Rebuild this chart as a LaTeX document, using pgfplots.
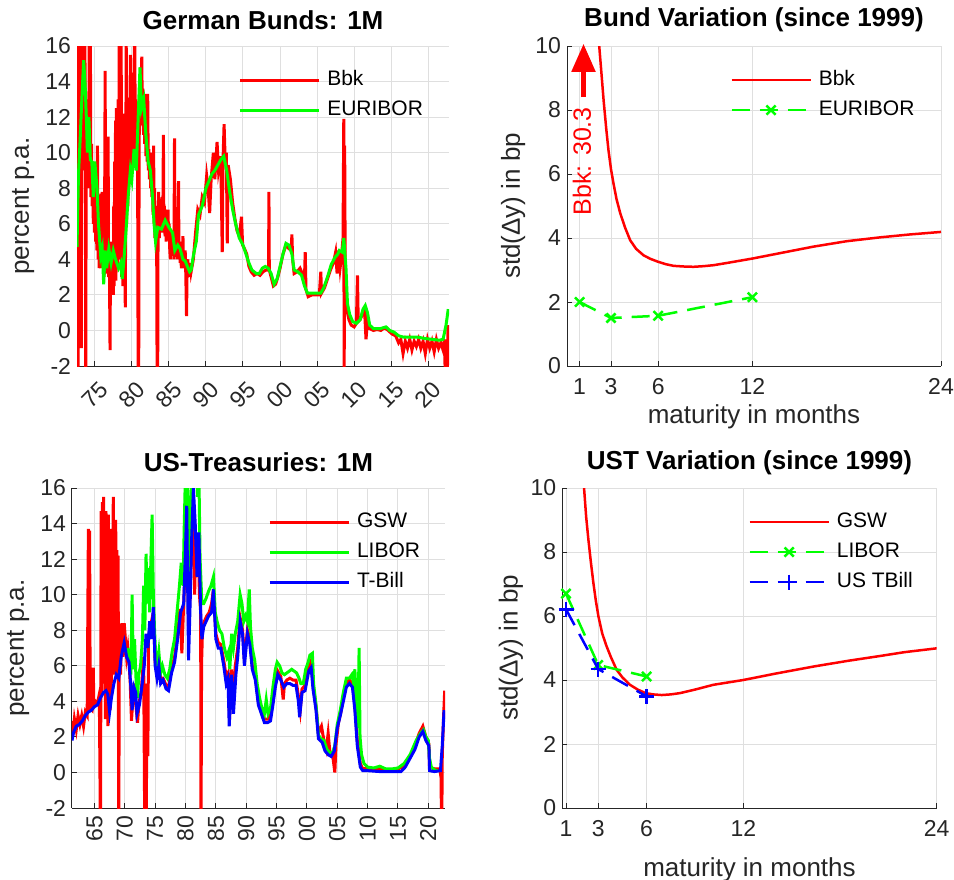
\documentclass[border=0pt]{standalone}
\usepackage{pgfplots}
\pgfplotsset{compat=1.18}
\usepackage{fontspec}
\setmainfont{Liberation Sans}
\usetikzlibrary{arrows.meta}
\definecolor{axgray}{rgb}{0.15,0.15,0.15}
\definecolor{gridgray}{rgb}{0.875,0.875,0.875}
\definecolor{mred}{rgb}{1,0,0}
\definecolor{mgreen}{rgb}{0,1,0}
\definecolor{mblue}{rgb}{0,0,1}
\pgfplotsset{
  matlab/.style={
    scale only axis, anchor=south west,
    axis x line*=bottom, axis y line*=left,
    axis line style={-, axgray, line width=1pt},
    every tick/.style={axgray, line width=1pt},
    tick align=inside, major tick length=5pt,
    grid=major, major grid style={gridgray, line width=1pt},
    tick label style={font=\fontsize{23}{26}\selectfont, text=axgray},
    /pgf/number format/assume math mode=true,
    label style={font=\fontsize{26}{30}\selectfont, text=axgray},
    title style={font=\fontsize{26}{30}\selectfont\bfseries, anchor=center},
    legend style={draw=none, fill=none, font=\fontsize{21}{24}\selectfont, anchor=north west, inner sep=0pt, row sep=9pt, nodes={inner sep=1pt, text height=15pt, text depth=4pt}, /tikz/every odd column/.append style={column sep=6pt}},
    legend cell align=left,
    legend image code/.code={\draw[mark repeat=2,mark phase=2,##1] plot coordinates {(0pt,0pt) (39.5pt,0pt) (79pt,0pt)};},
    scaled ticks=false,
    clip mode=individual,
    yticklabel shift=2.5pt,
  },
}
\begin{document}
\begin{tikzpicture}
\useasboundingbox (0pt,0pt) rectangle (954pt,-880pt);
% ---------------- Panel 1 ----------------
\begin{axis}[matlab, at={(77pt,-366pt)}, width=372pt, height=320pt,
  xmin=1972.6, xmax=2022.8, ymin=-2, ymax=16,
  xtick={1975,1980,...,2020}, xticklabels={75,80,85,90,95,00,05,10,15,20},
  ytick={-2,0,...,16},
  xticklabel style={rotate=45, anchor=center}, xticklabel shift=29pt,
  title={German Bunds: 1M}, title style={at={(axis description cs:0.5,1.0625)}},
  ylabel={percent p.a.}, ylabel style={at={(axis description cs:-0.145,0.5)}, anchor=center},
  legend style={at={(axis description cs:0.433,0.927)}},
]
\addplot[mred, line width=3pt] coordinates {
(1972.60,4.5) (1972.64,17) (1972.68,2.5) (1972.72,17) (1972.76,-4) (1972.80,12) (1972.84,3) (1972.88,17) (1972.92,-1) (1972.96,17)
(1973.00,8) (1973.04,17) (1973.08,6) (1973.12,15) (1973.18,-1) (1973.24,17) (1973.30,10) (1973.36,17) (1973.42,12) (1973.48,17)
(1973.54,14) (1973.60,9) (1973.66,17) (1973.72,11) (1973.78,-4) (1973.84,10) (1973.90,13) (1973.96,9) (1974.02,11) (1974.10,8)
(1974.18,10) (1974.26,17) (1974.32,9) (1974.40,17) (1974.48,7.5) (1974.56,10.5) (1974.64,7) (1974.72,9.5) (1974.80,6) (1974.88,8.5)
(1974.96,5.5) (1975.04,7.5) (1975.12,5) (1975.20,6.5) (1975.28,4.5) (1975.36,10.4) (1975.44,4) (1975.52,6) (1975.60,3.5) (1975.68,5)
(1975.76,4) (1975.84,7.7) (1975.92,3.5) (1976.00,7.8) (1976.08,4) (1976.16,5.5) (1976.24,3) (1976.32,6) (1976.40,14.6) (1976.46,4)
(1976.52,7.5) (1976.58,3.2) (1976.66,5.5) (1976.74,3.5) (1976.80,10.9) (1976.86,3) (1976.92,5) (1976.98,3.5) (1977.06,-1.1) (1977.12,4.5)
(1977.18,3) (1977.26,5) (1977.34,2.5) (1977.42,4.5) (1977.50,2) (1977.56,7) (1977.62,2.5) (1977.68,9.5) (1977.74,3) (1977.80,11.8)
(1977.86,2.8) (1977.92,12.5) (1977.98,4) (1978.04,11.8) (1978.10,3.5) (1978.16,13) (1978.22,5) (1978.30,17) (1978.36,6) (1978.42,12.5)
(1978.48,4) (1978.56,17) (1978.62,3) (1978.70,11) (1978.78,2.5) (1978.86,12.2) (1978.92,4) (1979.00,9) (1979.06,3) (1979.12,1.3)
(1979.18,8) (1979.24,17) (1979.30,6) (1979.38,11) (1979.46,7) (1979.52,13.1) (1979.58,8) (1979.66,12) (1979.72,9) (1979.80,15.5)
(1979.86,8.5) (1979.92,12) (1979.98,9) (1980.04,14.5) (1980.10,9.5) (1980.18,12.5) (1980.26,10) (1980.34,16.5) (1980.40,17) (1980.46,10)
(1980.54,13) (1980.62,9.5) (1980.70,12) (1980.78,9.3) (1980.86,-4) (1980.92,-4) (1980.98,10) (1981.04,13) (1981.10,11.5) (1981.18,14.8)
(1981.26,12.5) (1981.34,15.4) (1981.42,12) (1981.50,13.6) (1981.58,11) (1981.66,12.5) (1981.74,10.5) (1981.82,13.3) (1981.90,9.8) (1981.98,12)
(1982.06,9.5) (1982.14,13.3) (1982.22,9) (1982.30,10.2) (1982.38,8.5) (1982.46,10) (1982.54,8) (1982.62,9.5) (1982.70,7.5) (1982.78,10)
(1982.86,6.5) (1982.94,10.4) (1983.00,6) (1983.06,8) (1983.12,5.2) (1983.18,7) (1983.26,5) (1983.34,6.5) (1983.42,-4) (1983.48,-4)
(1983.54,6) (1983.62,7.8) (1983.70,5.2) (1983.78,7) (1983.86,5.5) (1983.94,6.5) (1984.02,5.5) (1984.10,7.5) (1984.18,6) (1984.26,11)
(1984.32,6) (1984.40,7) (1984.48,5.3) (1984.56,6.5) (1984.64,5) (1984.72,6) (1984.80,5.5) (1984.88,6.8) (1984.96,5.2) (1985.04,6)
(1985.12,4.5) (1985.20,4) (1985.28,5.5) (1985.36,4.5) (1985.44,5) (1985.52,4.2) (1985.60,5.5) (1985.68,4) (1985.76,10.8) (1985.82,4.5)
(1985.90,5.5) (1985.98,4.2) (1986.06,5) (1986.14,4) (1986.22,5.2) (1986.30,8.4) (1986.36,4.2) (1986.44,5) (1986.52,3.8) (1986.60,4.6)
(1986.68,3.5) (1986.76,5) (1986.84,4) (1986.90,5.3) (1986.96,3.5) (1987.04,4.5) (1987.12,3.5) (1987.20,4.5) (1987.28,3.2) (1987.38,0.8)
(1987.46,3.5) (1987.56,4) (1987.66,3) (1987.74,3.6) (1987.82,3.2) (1987.90,3.8)
(1988.0,3.3) (1988.3,4.0) (1988.6,5.5) (1988.9,6.8) (1989.2,6.5) (1989.5,7.5) (1989.8,7.2) (1990.1,8.7) (1990.3,8.0) (1990.5,6.6)
(1990.7,8.5) (1991.0,10.0) (1991.2,8.5) (1991.5,10.6) (1991.7,9.0) (1992.0,9.8) (1992.2,4.4) (1992.3,9.5) (1992.45,11.6) (1992.6,9.5)
(1992.75,10.0) (1992.88,4.9) (1993.0,9.3) (1993.3,8.5) (1993.6,7.2) (1993.9,6.3) (1994.2,5.6) (1994.5,5.3) (1994.8,6.4) (1994.95,4.8)
(1995.2,4.6) (1995.5,4.3) (1995.8,3.6) (1996.1,3.3) (1996.5,3.1) (1996.9,3.2) (1997.3,3.1) (1997.7,3.3) (1998.1,3.4) (1998.45,3.4)
(1998.5,7.8) (1998.55,3.4) (1998.8,3.0) (1999.1,2.5) (1999.4,2.6) (1999.7,3.0) (2000.0,3.5) (2000.4,4.3) (2000.8,4.8) (2001.2,4.6)
(2001.5,4.5) (2001.6,5.4) (2001.7,4.0) (2001.9,3.2) (2002.3,3.3) (2002.7,3.5) (2003.0,3.2) (2003.3,3.0) (2003.4,4.4) (2003.5,2.3)
(2003.8,1.9) (2004.3,2.0) (2004.8,2.0) (2005.3,2.0) (2005.5,3.3) (2005.6,2.1) (2006.0,2.4) (2006.4,2.9) (2006.8,3.4) (2007.2,3.8)
(2007.5,4.4) (2007.7,3.2) (2007.9,4.5) (2008.1,3.5) (2008.3,4.2) (2008.5,5.2) (2008.6,11.9) (2008.65,-4) (2008.72,10.4) (2008.8,3.0)
(2009.0,1.2) (2009.3,0.6) (2009.6,0.3) (2010.0,0.2) (2010.3,0.4) (2010.45,3.1) (2010.55,0.5) (2010.8,0.6) (2011.1,0.9) (2011.4,1.2)
(2011.6,-0.5) (2011.8,0.5) (2012.1,0.1) (2012.6,0.0) (2013.1,0.05) (2013.6,0.0) (2014.1,0.15) (2014.6,0.0) (2015.1,-0.2) (2015.6,-0.3)
(2016.0,-0.7) (2016.3,-0.5) (2016.6,-1.3) (2016.9,-0.6) (2017.2,-1.0) (2017.5,-0.5) (2017.8,-1.1) (2018.1,-0.6) (2018.4,-0.9) (2018.7,-0.5)
(2019.0,-1.0) (2019.3,-0.6) (2019.6,-1.3) (2019.9,-0.5) (2020.2,-1.0) (2020.5,-0.6) (2020.8,-1.2) (2021.1,-0.5) (2021.4,-1.0) (2021.7,-0.7)
(2022.0,-1.1) (2022.2,-0.5) (2022.35,-4) (2022.45,-0.5) (2022.55,-4) (2022.65,0.3) (2022.75,-1.5)
};
\addlegendentry{Bbk}
\addplot[mgreen, line width=3pt] coordinates {
(1972.6,4.7) (1972.8,8.8) (1973.0,10.5) (1973.2,12.5) (1973.5,15.2) (1973.7,13.8) (1973.9,11.5) (1974.0,10.0) (1974.2,12.0) (1974.4,9.6)
(1974.6,9.5) (1974.8,7.5) (1975.0,9.5) (1975.3,8.0) (1975.5,6.0) (1975.8,4.2) (1976.0,4.6) (1976.2,2.6) (1976.4,4.5) (1976.6,3.5)
(1976.9,4.6) (1977.2,3.8) (1977.5,4.5) (1977.8,4.0) (1978.2,3.5) (1978.5,3.8) (1978.7,2.9) (1978.9,3.8) (1979.2,5.5) (1979.5,7.5)
(1979.8,9.0) (1980.0,8.5) (1980.3,10.2) (1980.6,9.0) (1980.9,12.5) (1981.1,14.8) (1981.3,12.5) (1981.6,13.0) (1981.9,11.0) (1982.2,9.5)
(1982.5,9.0) (1982.8,7.5) (1983.0,6.0) (1983.2,5.0) (1983.5,5.8) (1984.0,5.7) (1984.5,6.2) (1985.0,5.8) (1985.5,5.5) (1985.8,4.5)
(1986.2,4.8) (1986.5,4.6) (1986.9,4.0) (1987.2,3.9) (1987.5,3.6) (1987.8,3.3) (1988.0,3.4) (1988.3,4.2) (1988.7,5.0) (1989.0,6.5)
(1989.5,7.0) (1990.0,8.0) (1990.5,8.5) (1990.8,8.8) (1991.2,9.0) (1991.6,9.3) (1992.0,9.6) (1992.4,9.8) (1992.8,9.0) (1993.2,7.8)
(1993.6,6.8) (1994.0,6.0) (1994.5,5.2) (1995.0,4.8) (1995.4,4.3) (1995.8,3.8) (1996.2,3.4) (1996.8,3.2) (1997.2,3.2) (1997.6,3.5)
(1998.0,3.6) (1998.4,3.5) (1998.8,3.2) (1999.2,2.6) (1999.6,2.9) (2000.0,3.6) (2000.4,4.3) (2000.8,4.9) (2001.2,4.8) (2001.6,4.3)
(2001.9,3.4) (2002.4,3.3) (2002.9,3.1) (2003.3,2.5) (2003.7,2.1) (2004.3,2.1) (2004.8,2.1) (2005.5,2.1) (2005.9,2.4) (2006.4,3.0)
(2006.9,3.7) (2007.4,4.1) (2007.8,4.3) (2008.0,4.5) (2008.4,4.4) (2008.6,5.2) (2008.9,3.5) (2009.1,1.5) (2009.4,0.9) (2009.8,0.5)
(2010.3,0.4) (2010.8,0.6) (2011.2,1.2) (2011.5,1.4) (2011.8,1.0) (2012.1,0.3) (2012.6,0.1) (2013.5,0.1) (2014.3,0.2) (2014.8,0.0)
(2015.4,-0.1) (2016.0,-0.3) (2016.6,-0.37) (2017.5,-0.37) (2018.5,-0.37) (2019.5,-0.45) (2020.5,-0.5) (2021.5,-0.55) (2022.0,-0.5) (2022.4,0.3)
(2022.7,1.2)
};
\addlegendentry{EURIBOR}
\end{axis}
% ---------------- Panel 2 ----------------
\begin{axis}[matlab, at={(567pt,-366pt)}, width=374pt, height=320pt,
  xmin=0.2, xmax=24, ymin=0, ymax=10,
  xtick={1,3,6,12,24}, ytick={0,2,...,10}, xticklabel shift=9pt,
  title={Bund Variation (since 1999)}, title style={at={(axis description cs:0.5,1.0625)}},
  xlabel={maturity in months}, xlabel style={at={(axis description cs:0.5,-0.158)}, anchor=center},
  ylabel={std(Δy) in bp}, ylabel style={at={(axis description cs:-0.144,0.5)}, anchor=center},
  legend style={at={(axis description cs:0.436,0.927)}},
]
\addplot[mred, line width=2.5pt] coordinates {
(1,30.3) (1.3,22) (1.6,16.5) (1.9,13) (2.1,11.3) (2.25,10) (2.4,9.1) (2.53,8.3) (2.7,7.4) (2.84,6.74) (3.0,6.15) (3.16,5.7)
(3.35,5.22) (3.59,4.77) (3.9,4.32) (4.22,3.93) (4.6,3.66) (5.07,3.46) (5.5,3.35) (5.98,3.26) (6.5,3.18) (6.98,3.13) (7.6,3.11)
(8.25,3.10) (8.9,3.12) (9.52,3.15) (10.5,3.23) (12.02,3.36) (14,3.55) (15.88,3.73) (18,3.9) (20.12,4.02) (22,4.11) (24,4.19)
};
\addlegendentry{Bbk}
\addplot[mgreen, line width=2.5pt, dash pattern=on 18pt off 10pt, mark=x, mark size=6.5pt, mark options={solid, line width=2.5pt}] coordinates {
(1,2.0) (3,1.5) (6,1.57) (12,2.15)
};
\addlegendentry{EURIBOR}
\draw[mred, line width=5pt, -{Triangle[width=23pt,length=28pt]}] (axis cs:1.25,8.4) -- (axis cs:1.25,10.07);
\node[mred, rotate=90, font=\fontsize{25}{28}\selectfont, anchor=center] at (axis cs:1.15,6.4) {Bbk: 30.3};
\end{axis}
% ---------------- Panel 3 ----------------
\begin{axis}[matlab, at={(72pt,-808pt)}, width=373pt, height=320pt,
  xmin=1961.3, xmax=2022.75, ymin=-2, ymax=16,
  xtick={1965,1970,...,2020}, xticklabels={65,70,75,80,85,90,95,00,05,10,15,20},
  ytick={-2,0,...,16},
  xticklabel style={rotate=90, anchor=east}, xticklabel shift=4pt,
  title={US-Treasuries: 1M}, title style={at={(axis description cs:0.5,1.061)}},
  ylabel={percent p.a.}, ylabel style={at={(axis description cs:-0.144,0.5)}, anchor=center},
  legend style={at={(axis description cs:0.525,0.927)}},
]
\addplot[mred, line width=3pt] coordinates {
(1961.3,2.9) (1961.5,2.2) (1961.7,3.0) (1962.0,2.4) (1962.3,3.2) (1962.6,2.7) (1962.9,3.2) (1963.2,2.6) (1963.5,3.4) (1963.8,3.2)
(1964.0,13.7) (1964.1,3.5) (1964.2,13.6) (1964.3,3.6) (1964.6,3.5) (1964.8,5.9) (1964.9,3.8) (1965.2,4.0) (1965.5,3.9) (1965.8,4.4)
(1966.0,-4) (1966.1,14.7) (1966.2,4.5) (1966.3,15.2) (1966.4,5.0) (1966.5,15.5) (1966.6,6.0) (1966.7,14.0) (1966.8,3.0) (1966.9,14.7)
(1967.0,5.5) (1967.1,13.0) (1967.2,2.6) (1967.3,14.5) (1967.4,4.5) (1967.5,12.0) (1967.6,3.5) (1967.7,13.7) (1967.8,5.0) (1967.9,11.0)
(1968.0,6.0) (1968.1,15.5) (1968.2,5.5) (1968.3,13.5) (1968.4,6.5) (1968.5,14.2) (1968.6,5.5) (1968.7,12.5) (1968.8,7.0) (1968.9,12.2)
(1969.0,-4) (1969.1,7.5) (1969.3,5.5) (1969.5,8.4) (1969.7,6.5) (1969.9,8.4) (1970.1,7.5) (1970.3,6.5) (1970.5,7.0) (1970.7,6.2)
(1970.9,5.0) (1971.1,2.9) (1971.3,4.0) (1971.5,5.0) (1971.7,4.2) (1971.9,3.5) (1972.1,2.8) (1972.3,3.8) (1972.5,4.2) (1972.7,4.5)
(1972.9,5.5) (1973.1,6.5) (1973.3,-4) (1973.4,5.0) (1973.5,-4) (1973.6,1.0) (1973.8,1.0) (1973.9,7.5) (1974.1,8.0) (1974.4,8.5)
(1974.7,9.0) (1975.0,6.2) (1975.3,5.5) (1975.6,6.0) (1975.9,5.3) (1976.3,5.3) (1976.8,4.9) (1977.2,4.8) (1977.7,5.8) (1978.2,6.5)
(1978.7,7.8) (1979.1,9.2) (1979.4,6.7) (1979.7,9.5) (1980.0,12.0) (1980.3,14.5) (1980.5,8.0) (1980.8,10.5) (1981.0,13.5) (1981.3,15.5)
(1981.5,10.0) (1981.7,13.0) (1981.9,11.0) (1982.1,12.5) (1982.3,10.0) (1982.5,9.0) (1982.55,-4) (1982.65,6.2) (1982.8,8.0) (1983.1,8.5)
(1983.5,8.8) (1983.9,9.0) (1984.3,9.5) (1984.6,10.3) (1985.0,7.8) (1985.4,7.3) (1985.8,7.2) (1986.3,6.3) (1986.7,5.4) (1987.0,5.6)
(1987.25,3.0) (1987.6,5.8) (1987.9,3.8) (1988.2,6.0) (1988.6,7.0) (1989.0,8.7) (1989.4,8.0) (1989.7,6.3) (1990.2,8.0) (1990.6,7.5)
(1991.0,6.0) (1991.5,5.4) (1992.0,4.0) (1992.5,3.5) (1993.0,3.0) (1993.5,3.0) (1994.0,3.2) (1994.4,4.0) (1994.8,5.0) (1995.2,5.7)
(1995.7,5.4) (1996.1,4.1) (1996.3,5.0) (1996.7,5.2) (1997.2,5.3) (1997.7,5.2) (1998.2,5.2) (1998.6,4.3) (1998.9,3.5) (1999.2,4.7)
(1999.7,4.9) (2000.3,6.0) (2000.7,6.3) (2001.0,5.0) (2001.5,3.7) (2001.9,2.2) (2002.4,2.6) (2002.8,1.8) (2003.2,1.3) (2003.5,2.2)
(2003.8,1.1) (2004.2,1.1) (2004.6,0.0) (2004.8,1.6) (2005.2,2.8) (2005.6,3.4) (2006.0,4.2) (2006.5,5.0) (2007.0,5.2) (2007.5,5.0)
(2007.9,3.8) (2008.3,1.8) (2008.8,0.5) (2009.2,0.2) (2010,0.25) (2011,0.15) (2012,0.2) (2013,0.15) (2014,0.1) (2015,0.2)
(2015.7,0.3) (2016.2,0.5) (2017,0.9) (2017.8,1.5) (2018.5,2.2) (2019.1,2.6) (2019.6,2.0) (2020.1,1.6) (2020.2,0.3) (2021,0.2)
(2021.9,0.2) (2022.1,-0.3) (2022.2,-4) (2022.3,1.0) (2022.5,3.0) (2022.7,4.6)
};
\addlegendentry{GSW}
\addplot[mgreen, line width=3pt] coordinates {
(1970.5,7.0) (1970.8,6.2) (1971.0,5.5) (1971.2,10.0) (1971.4,5.8) (1971.6,7.5) (1971.9,4.8) (1972.1,4.2) (1972.3,5.5) (1972.6,6.0)
(1972.9,7.5) (1973.1,10.5) (1973.3,8.0) (1973.5,12.3) (1973.7,9.5) (1973.9,11.5) (1974.1,9.0) (1974.3,12.0) (1974.5,14.5) (1974.7,10.0)
(1974.9,8.0) (1975.1,6.5) (1975.3,6.0) (1975.6,6.8) (1975.9,5.6) (1976.2,6.0) (1976.6,5.5) (1977.0,5.3) (1977.4,5.8) (1977.8,6.8)
(1978.2,7.5) (1978.6,9.0) (1979.0,10.5) (1979.3,11.8) (1979.6,10.5) (1979.8,14.0) (1980.0,17) (1980.3,17) (1980.5,9.0) (1980.8,14)
(1981.0,17) (1981.4,17) (1981.8,17) (1982.0,15.5) (1982.2,17) (1982.4,12.0) (1982.7,9.5) (1983.0,9.5) (1983.4,9.8) (1983.8,10.2)
(1984.2,10.5) (1984.6,11.0) (1984.9,9.0) (1985.2,8.5) (1985.6,8.0) (1986.0,7.8) (1986.4,7.0) (1986.8,6.5) (1987.1,6.8) (1987.3,5.8)
(1987.6,7.8) (1987.9,7.0) (1988.2,7.8) (1988.6,8.5) (1989.0,10.0) (1989.3,9.5) (1989.6,8.5) (1989.9,8.8) (1990.2,8.5) (1990.5,10.3)
(1990.7,8.2) (1991.0,7.0) (1991.4,6.3) (1991.8,5.0) (1992.2,4.2) (1992.6,3.6) (1993.0,3.3) (1993.3,4.1) (1993.6,3.3) (1994.0,3.6)
(1994.4,4.8) (1994.8,5.8) (1995.1,6.2) (1995.5,6.0) (1995.9,5.6) (1996.3,5.5) (1996.7,5.6) (1997.1,5.7) (1997.5,5.8) (1997.9,5.7)
(1998.3,5.6) (1998.7,5.3) (1999.0,5.0) (1999.4,5.0) (1999.8,5.8) (2000.2,6.2) (2000.5,6.6) (2000.9,6.7) (2001.1,5.0) (2001.5,3.8)
(2001.9,2.1) (2002.3,1.9) (2002.8,1.8) (2003.3,1.3) (2003.8,1.1) (2004.2,1.1) (2004.6,1.5) (2005.0,2.7) (2005.5,3.5) (2006.0,4.5)
(2006.5,5.3) (2007.0,5.3) (2007.4,5.5) (2007.7,5.0) (2007.9,5.8) (2008.2,3.5) (2008.4,2.5) (2008.6,7.0) (2008.75,2.0) (2009.0,1.0)
(2009.4,0.5) (2010,0.3) (2011,0.25) (2012,0.35) (2013,0.2) (2014,0.2) (2015,0.25) (2016,0.5) (2017,1.0) (2018,1.8)
(2018.7,2.2) (2019.2,2.4) (2019.6,2.0) (2020.0,1.8) (2020.2,0.8) (2020.5,0.3) (2021.0,0.15) (2021.5,0.1)
};
\addlegendentry{LIBOR}
\addplot[mblue, line width=3pt] coordinates {
(1961.3,1.8) (1961.6,2.3) (1962.0,2.6) (1962.5,2.7) (1963.0,2.9) (1963.5,3.2) (1964.0,3.4) (1964.5,3.5) (1965.0,3.7) (1965.5,3.8)
(1966.0,4.2) (1966.5,4.5) (1966.9,4.6) (1967.2,4.4) (1967.5,3.4) (1967.8,4.2) (1968.2,5.0) (1968.6,5.5) (1969.0,5.3) (1969.4,6.5)
(1969.9,7.3) (1970.3,6.5) (1970.7,6.2) (1971.0,4.8) (1971.2,3.5) (1971.5,4.8) (1971.8,4.5) (1972.0,3.3) (1972.4,3.8) (1972.8,4.8)
(1973.2,6.0) (1973.5,7.8) (1973.8,7.0) (1974.1,8.5) (1974.4,7.5) (1974.7,9.3) (1975.0,6.0) (1975.3,5.3) (1975.6,6.0) (1975.9,5.0)
(1976.3,5.2) (1976.8,4.7) (1977.2,4.6) (1977.7,5.6) (1978.2,6.2) (1978.7,7.5) (1979.2,9.0) (1979.7,9.5) (1980.0,12.5) (1980.2,15.0)
(1980.5,6.3) (1980.8,10.0) (1981.0,13.0) (1981.3,16.0) (1981.6,14.0) (1981.9,11.0) (1982.2,13.5) (1982.5,9.0) (1982.7,7.5) (1983.0,8.2)
(1983.4,8.5) (1983.8,8.8) (1984.3,9.0) (1984.6,10.3) (1985.0,7.5) (1985.4,7.0) (1985.8,7.0) (1986.3,6.0) (1986.7,5.0) (1987.0,5.3)
(1987.2,2.6) (1987.6,5.5) (1987.9,3.3) (1988.3,5.5) (1988.6,6.5) (1989.0,8.5) (1989.4,7.8) (1989.7,6.0) (1990.2,7.8) (1990.6,7.2)
(1991.0,5.8) (1991.5,5.2) (1992.0,3.8) (1992.5,3.3) (1993.0,2.8) (1993.5,2.8) (1994.0,2.9) (1994.4,3.8) (1994.8,4.8) (1995.2,5.5)
(1995.7,5.2) (1996.2,4.8) (1996.7,5.0) (1997.2,5.0) (1997.7,4.9) (1998.2,4.9) (1998.6,4.0) (1998.8,3.1) (1999.2,4.5) (1999.7,4.6)
(2000.3,5.7) (2000.7,5.9) (2001.0,4.7) (2001.5,3.5) (2001.9,1.9) (2002.5,1.7) (2003.0,1.2) (2003.5,1.0) (2004.0,0.9) (2004.5,1.2)
(2005.0,2.5) (2005.5,3.2) (2006.0,4.0) (2006.5,4.8) (2007.0,5.0) (2007.5,4.8) (2007.9,3.5) (2008.3,1.5) (2008.8,0.3) (2009.2,0.1)
(2010,0.1) (2012,0.05) (2014,0.05) (2015.5,0.05) (2016.2,0.3) (2017,0.8) (2017.8,1.3) (2018.5,2.0) (2019.1,2.3) (2019.6,1.8)
(2020.1,1.5) (2020.2,0.1) (2021,0.05) (2022.0,0.1) (2022.3,1.5) (2022.6,3.5)
};
\addlegendentry{T-Bill}
\end{axis}
% ---------------- Panel 4 ----------------
\begin{axis}[matlab, at={(562.3pt,-808pt)}, width=374.4pt, height=320pt,
  xmin=0.77, xmax=24, ymin=0, ymax=10,
  xtick={1,3,6,12,24}, ytick={0,2,...,10}, xticklabel shift=9pt,
  title={UST Variation (since 1999)}, title style={at={(axis description cs:0.5,1.0616)}},
  xlabel={maturity in months}, xlabel style={at={(axis description cs:0.5,-0.194)}, anchor=center},
  ylabel={std(Δy) in bp}, ylabel style={at={(axis description cs:-0.137,0.5)}, anchor=center},
  legend style={at={(axis description cs:0.4965,0.927)}},
]
\addplot[mred, line width=2.5pt] coordinates {
(1,24) (1.3,18) (1.6,14.2) (1.9,11.5) (2.12,10) (2.25,9.1) (2.39,8.38) (2.55,7.65) (2.70,7.03) (2.85,6.48) (3.01,5.99) (3.25,5.45)
(3.52,5.05) (3.8,4.7) (4.14,4.32) (4.5,4.08) (4.97,3.85) (5.45,3.7) (5.94,3.59) (6.4,3.55) (6.94,3.53) (7.5,3.55) (8.07,3.59) (9,3.7)
(10.14,3.85) (12.0,4.0) (14,4.2) (16.35,4.42) (18.5,4.6) (20.48,4.75) (22,4.87) (24,4.99)
};
\addlegendentry{GSW}
\addplot[mgreen, line width=2.5pt, dash pattern=on 18pt off 10pt, mark=x, mark size=6.5pt, mark options={solid, line width=2.5pt}] coordinates {
(1,6.7) (3,4.47) (6,4.11)
};
\addlegendentry{LIBOR}
\addplot[mblue, line width=2.5pt, dash pattern=on 18pt off 10pt, mark=+, mark size=7.5pt, mark options={solid, line width=2.5pt}] coordinates {
(1,6.21) (3,4.34) (6,3.49)
};
\addlegendentry{US TBill}
\end{axis}
\end{tikzpicture}
\end{document}
